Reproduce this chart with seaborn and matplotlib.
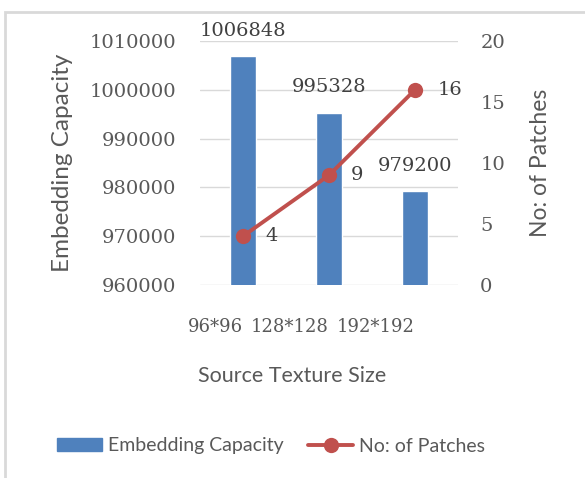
import matplotlib
matplotlib.use("Agg")
import matplotlib.pyplot as plt
from matplotlib.patches import Rectangle
from matplotlib.lines import Line2D
from matplotlib.ticker import FuncFormatter
import seaborn as sns
import pandas as pd

# Chart data
sizes = ["96*96", "128*128", "192*192"]
capacity = [1006848, 995328, 979200]
patches = [4, 9, 16]

BAR_COLOR = "#4F81BD"
LINE_COLOR = "#C0504D"
GRID_COLOR = "#D9D9D9"
TICK_COLOR = "#595959"
LABEL_COLOR = "#404040"
SERIF = "DejaVu Serif"
SANS = "Lato"

sns.set_theme(style="white")
plt.rcParams["font.family"] = [SANS, "DejaVu Sans"]

df = pd.DataFrame({"size": sizes, "capacity": capacity, "patches": patches})

fig = plt.figure(figsize=(5.85, 4.78), dpi=100)
ax = fig.add_axes([200 / 585, 1 - 285 / 478, 258 / 585, 244 / 478])

sns.barplot(data=df, x="size", y="capacity", color=BAR_COLOR, width=0.31,
            saturation=1, ax=ax, zorder=2)
ax.set_ylim(960000, 1010000)
ax.set_yticks(range(960000, 1010001, 10000))
ax.yaxis.set_major_formatter(FuncFormatter(lambda v, _: f"{int(round(v))}"))
ax.set_xlim(-0.5, len(sizes) - 0.5)
ax.grid(axis="y", color=GRID_COLOR, lw=1, zorder=0)
ax.set_axisbelow(True)
for s in ax.spines.values():
    s.set_visible(False)
ax.tick_params(axis="both", length=0, colors=TICK_COLOR)
ax.tick_params(axis="y", pad=17)
ax.tick_params(axis="x", pad=24)
for t in ax.get_yticklabels():
    t.set_fontfamily(SERIF)
    t.set_fontsize(14)
for t in ax.get_xticklabels():
    t.set_fontfamily(SERIF)
    t.set_fontsize(13)
    t.set_ha("right")
ax.set_xlabel("")
ax.set_ylabel("Embedding Capacity", fontsize=17.5, color=TICK_COLOR, labelpad=12)

ax.bar_label(ax.containers[0], labels=[str(v) for v in capacity], padding=12,
             fontsize=14, color=LABEL_COLOR, fontfamily=SERIF)

ax2 = ax.twinx()
sns.lineplot(x=list(range(len(sizes))), y=patches, color=LINE_COLOR, lw=2.8,
             marker="o", markersize=11, markeredgewidth=0, ax=ax2, zorder=3)
ax2.set_ylim(0, 20)
ax2.set_yticks(range(0, 21, 5))
for s in ax2.spines.values():
    s.set_visible(False)
ax2.tick_params(axis="y", length=0, colors=TICK_COLOR, pad=16)
for t in ax2.get_yticklabels():
    t.set_fontfamily(SERIF)
    t.set_fontsize(14)
ax2.set_ylabel("No: of Patches", fontsize=16.5, color=TICK_COLOR, labelpad=18)
ax2.grid(False)
for i, v in enumerate(patches):
    ax2.annotate(str(v), (i, v), xytext=(16, 0), textcoords="offset points",
                 ha="left", va="center", fontsize=14, color=LABEL_COLOR,
                 fontfamily=SERIF)

fig.text(0.5, 1 - 376 / 478, "Source Texture Size", ha="center", va="center",
         fontsize=15.5, color=TICK_COLOR)

handles = [
    Rectangle((0, 0), 1, 1, color=BAR_COLOR),
    Line2D([0], [0], color=LINE_COLOR, lw=2.8, marker="o", markersize=11,
           markeredgewidth=0),
]
fig.legend(handles, ["Embedding Capacity", "No: of Patches"], ncol=2,
           loc="center", bbox_to_anchor=(271 / 585, 1 - 446 / 478),
           frameon=False, fontsize=14, labelcolor=TICK_COLOR,
           handlelength=2.3, handleheight=0.6, columnspacing=1.3,
           handletextpad=0.3)

# Outer chart frame
fig.patches.append(Rectangle((5 / 585, -0.1), 2, 1 - 12 / 478 + 0.1,
                             transform=fig.transFigure, fill=False,
                             edgecolor=GRID_COLOR, lw=2))

fig.savefig("out.png", dpi=100)
